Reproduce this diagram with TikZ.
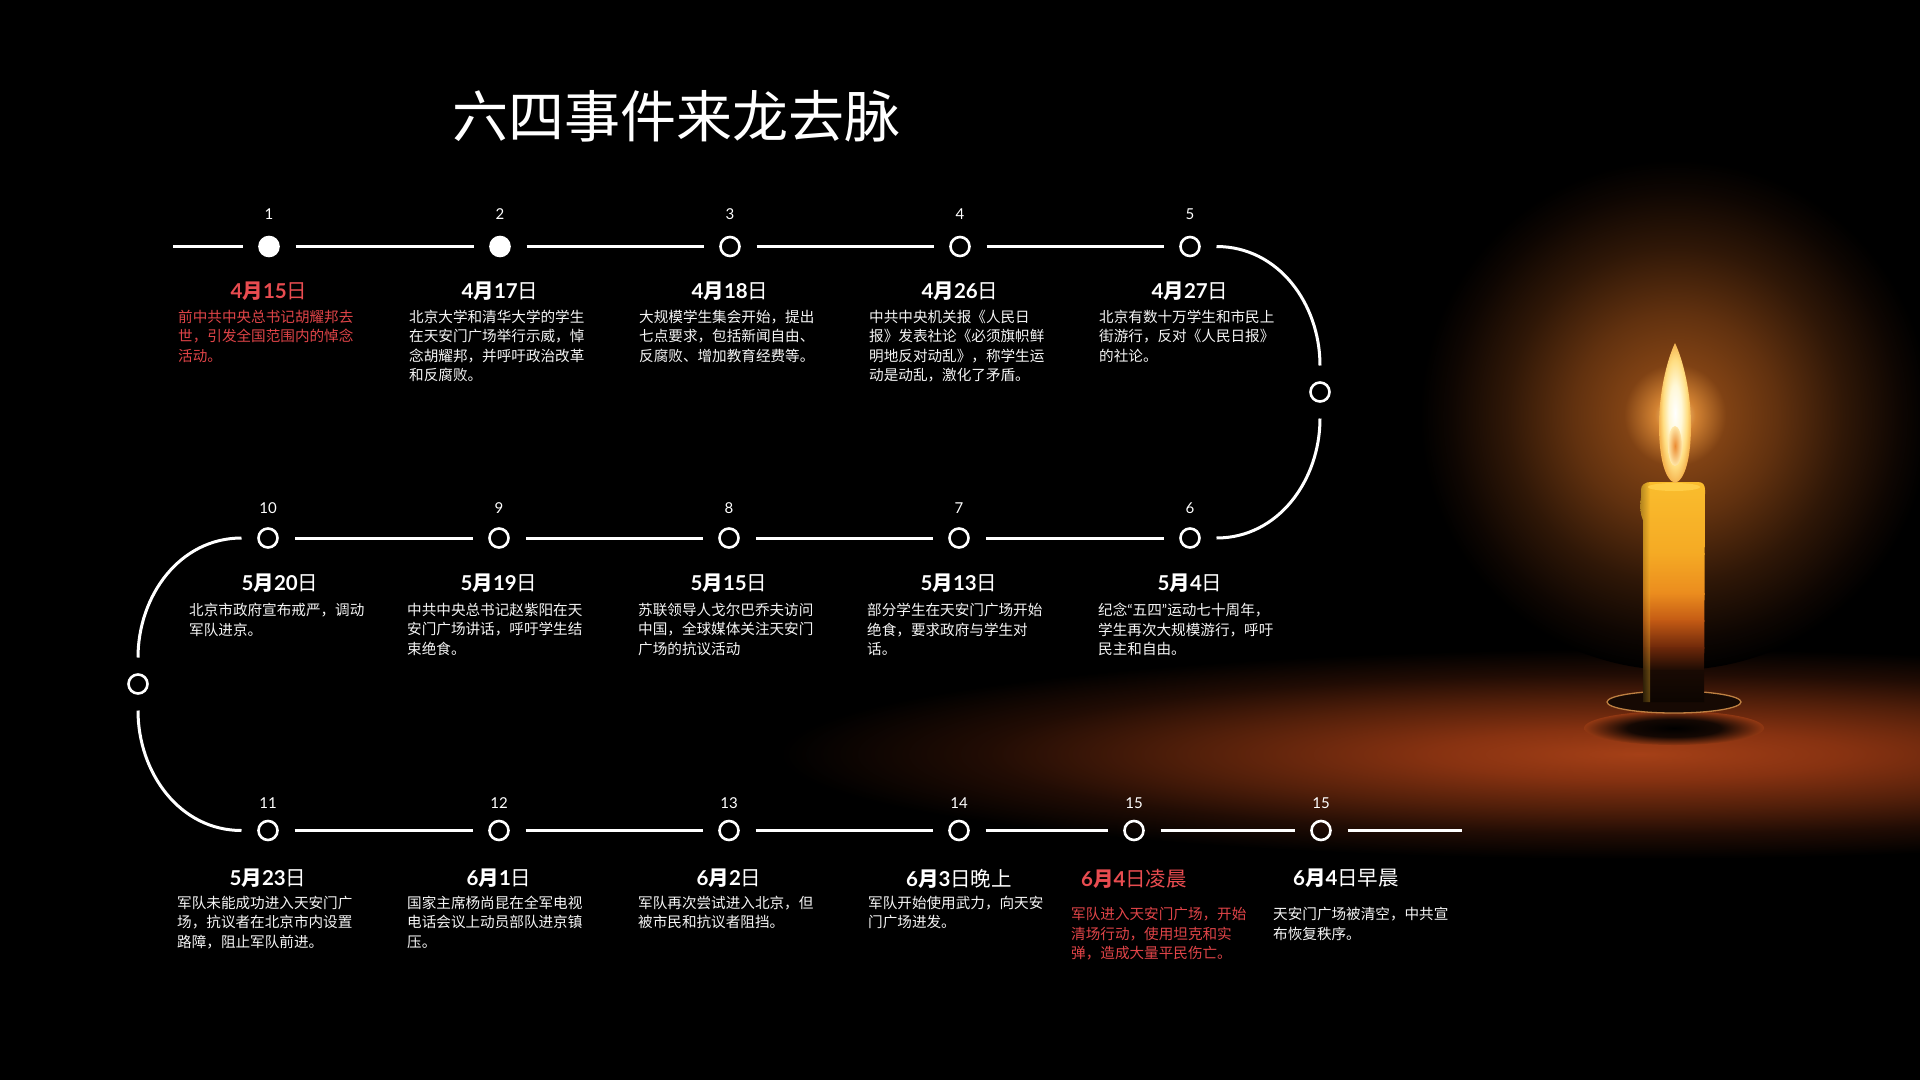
\documentclass[tikz,border=0pt]{standalone}
\usepackage{fontspec}
\setmainfont{Noto Sans CJK SC}
\newfontfamily\lato{Lato}

\definecolor{redA}{RGB}{232,76,80}
\definecolor{redB}{RGB}{224,68,72}
\definecolor{txtW}{RGB}{245,245,245}
% glow colours
\definecolor{gA}{RGB}{255,220,150}
\definecolor{gB}{RGB}{210,130,50}
\definecolor{gC}{RGB}{128,66,20}
\definecolor{gD}{RGB}{97,49,15}
\definecolor{gE}{RGB}{47,23,7}
\definecolor{gF}{RGB}{14,6,2}
% floor colours
\definecolor{fA}{RGB}{165,64,23}
\definecolor{fB}{RGB}{135,50,17}
\definecolor{fC}{RGB}{82,31,10}
\definecolor{fD}{RGB}{33,12,4}
\definecolor{shA}{RGB}{20,8,3}
\definecolor{shB}{RGB}{145,56,19}
% flame colours
\definecolor{flA}{RGB}{255,248,215}
\definecolor{flB}{RGB}{255,222,130}
\definecolor{flC}{RGB}{245,180,80}
\definecolor{coreA}{RGB}{235,140,50}
\definecolor{coreB}{RGB}{255,232,170}
% candle body colours
\definecolor{cw0}{RGB}{250,190,46}
\definecolor{cw1}{RGB}{245,170,36}
\definecolor{cw2}{RGB}{235,140,30}
\definecolor{cw3}{RGB}{195,90,20}
\definecolor{cw4}{RGB}{110,40,10}
\definecolor{cw5}{RGB}{25,10,3}
\definecolor{cw6}{RGB}{10,4,1}
\definecolor{waxtop}{RGB}{255,205,70}
\definecolor{dishring}{RGB}{190,128,66}
\definecolor{dishfill}{RGB}{22,9,3}

\pgfdeclareradialshading{candleglow}{\pgfpoint{0bp}{0bp}}{%
color(0bp)=(gA); color(2bp)=(gB); color(5bp)=(gC); color(10bp)=(gD);
color(16.5bp)=(gE); color(22bp)=(gF); color(25bp)=(black); color(50bp)=(black)}
\pgfdeclareradialshading{floorglow}{\pgfpoint{0bp}{0bp}}{%
color(0bp)=(fA); color(6bp)=(fB); color(13bp)=(fC); color(19bp)=(fD);
color(25bp)=(black); color(50bp)=(black)}
\pgfdeclareradialshading{dishshadow}{\pgfpoint{0bp}{0bp}}{%
color(0bp)=(black); color(13bp)=(shA); color(25bp)=(shB); color(50bp)=(shB)}
\pgfdeclareradialshading{flameshade}{\pgfpoint{0bp}{0bp}}{%
color(0bp)=(white); color(10bp)=(flA); color(19bp)=(flB); color(25bp)=(flC); color(50bp)=(flC)}

\newcommand\dat[3]{{\lato\bfseries #1}{\bfseries 月}{\lato\bfseries #2}日#3}

\begin{document}
\begin{tikzpicture}[x=1pt,y=-1pt,
  dotw/.style={circle, draw=white, fill=white, line width=2.6pt, minimum size=19pt, inner sep=0pt, outer sep=17pt},
  doto/.style={circle, draw=white, line width=2.6pt, minimum size=19pt, inner sep=0pt, outer sep=17pt},
  conn/.style={draw=white, line width=3pt},
  numlbl/.style={font=\lato\fontsize{15}{17}\selectfont, text=white, inner sep=0pt},
  datelbl/.style={font=\fontsize{20.5}{24}\selectfont, text=white, inner sep=0pt},
  desc/.style={font=\fontsize{14.6}{19.5}\selectfont, text=txtW, align=left, inner sep=0pt, anchor=north west},
  redt/.style={text=redA},
  redd/.style={text=redB},
  ttl/.style={font=\fontsize{56}{60}\selectfont, text=white, inner sep=0pt}
]
\useasboundingbox (0,0) rectangle (1920,1080);
\fill[black] (0,0) rectangle (1920,1080);

% ---------- candle scene ----------
\shade[shading=floorglow] (1640,754) ellipse [x radius=860, y radius=105];
\begin{scope}
  \clip (1300,0) rectangle (1920,672);
  \shade[shading=candleglow] (1675,415) circle [radius=255];
\end{scope}
\shade[shading=dishshadow] (1674,728) ellipse [x radius=90, y radius=17];
\draw[draw=dishring, line width=1.3pt, fill=dishfill] (1674,702) ellipse [x radius=67, y radius=11];
\begin{scope}
  \clip (1643,702) -- (1643,520) .. controls (1640,514) and (1640,506) .. (1641,498)
        -- (1641,490) .. controls (1641,485) and (1645,482) .. (1651,482)
        -- (1698,482) .. controls (1703,482) and (1705,485) .. (1705,490)
        -- (1704,702) -- cycle;
  \shade[top color=cw0, bottom color=cw1] (1630,478) rectangle (1720,554);
  \shade[top color=cw1, bottom color=cw2] (1630,553) rectangle (1720,594);
  \shade[top color=cw2, bottom color=cw3] (1630,593) rectangle (1720,621);
  \shade[top color=cw3, bottom color=cw4] (1630,620) rectangle (1720,648);
  \shade[top color=cw4, bottom color=cw5] (1630,647) rectangle (1720,671);
  \shade[top color=cw5, bottom color=cw6] (1630,670) rectangle (1720,706);
  \shade[left color=black, right color=cw0, opacity=0.35] (1638,478) rectangle (1650,706);
\end{scope}
\fill[waxtop] (1674,487) ellipse [x radius=26, y radius=4];
\shade[shading=flameshade] (1675,343) .. controls (1684,362) and (1691,395) .. (1691,425)
   .. controls (1691,458) and (1685,480) .. (1675,483)
   .. controls (1665,480) and (1659,458) .. (1659,425)
   .. controls (1659,395) and (1666,362) .. (1675,343) -- cycle;
\shade[inner color=coreA, outer color=coreB] (1675,446) ellipse [x radius=7, y radius=20];

% ---------- title ----------
\node[ttl] (title) at (676,116) {六四事件来龙去脉};

% ---------- dots ----------
\node[dotw] (n1) at (269,246.5) {};
\node[dotw] (n2) at (500,246.5) {};
\node[doto] (n3) at (730,246.5) {};
\node[doto] (n4) at (960,246.5) {};
\node[doto] (n5) at (1190,246.5) {};
\node[doto] (nr) at (1320,392) {};
\node[doto] (n6) at (1190,538) {};
\node[doto] (n7) at (959,538) {};
\node[doto] (n8) at (729,538) {};
\node[doto] (n9) at (499,538) {};
\node[doto] (n10) at (268,538) {};
\node[doto] (nl) at (138,684) {};
\node[doto] (n11) at (268,830.5) {};
\node[doto] (n12) at (499,830.5) {};
\node[doto] (n13) at (729,830.5) {};
\node[doto] (n14) at (959,830.5) {};
\node[doto] (n15a) at (1134,830.5) {};
\node[doto] (n15b) at (1321,830.5) {};
\coordinate (s1) at (173,246.5);
\coordinate (e3) at (1462,830.5);

% ---------- connectors ----------
\draw[conn] (s1) -- (n1);
\draw[conn] (n1) -- (n2);
\draw[conn] (n2) -- (n3);
\draw[conn] (n3) -- (n4);
\draw[conn] (n4) -- (n5);
\draw[conn] (n5) to[out=0,in=90] (nr);
\draw[conn] (nr) to[out=-90,in=0] (n6);
\draw[conn] (n6) -- (n7);
\draw[conn] (n7) -- (n8);
\draw[conn] (n8) -- (n9);
\draw[conn] (n9) -- (n10);
\draw[conn] (n10) to[out=180,in=90] (nl);
\draw[conn] (nl) to[out=-90,in=180] (n11);
\draw[conn] (n11) -- (n12);
\draw[conn] (n12) -- (n13);
\draw[conn] (n13) -- (n14);
\draw[conn] (n14) -- (n15a);
\draw[conn] (n15a) -- (n15b);
\draw[conn] (n15b) -- (e3);

% ---------- number labels ----------
\node[numlbl] (k1) at (269,214.5) {1};
\node[numlbl] (k2) at (500,214.5) {2};
\node[numlbl] (k3) at (730,214.5) {3};
\node[numlbl] (k4) at (960,214.5) {4};
\node[numlbl] (k5) at (1190,214.5) {5};
\node[numlbl] (k6) at (1190,508) {6};
\node[numlbl] (k7) at (959,508) {7};
\node[numlbl] (k8) at (729,508) {8};
\node[numlbl] (k9) at (499,508) {9};
\node[numlbl] (k10) at (268,508) {10};
\node[numlbl] (k11) at (268,803.5) {11};
\node[numlbl] (k12) at (499,803.5) {12};
\node[numlbl] (k13) at (729,803.5) {13};
\node[numlbl] (k14) at (959,803.5) {14};
\node[numlbl] (k15a) at (1134,803.5) {15};
\node[numlbl] (k15b) at (1321,803.5) {15};

% ---------- dates ----------
\node[datelbl,redt] (d1) at (269,291) {\dat{4}{15}{}};
\node[datelbl] (d2) at (500,291) {\dat{4}{17}{}};
\node[datelbl] (d3) at (730,291) {\dat{4}{18}{}};
\node[datelbl] (d4) at (960,291) {\dat{4}{26}{}};
\node[datelbl] (d5) at (1190,291) {\dat{4}{27}{}};
\node[datelbl] (d6) at (1190,583.5) {\dat{5}{4}{}};
\node[datelbl] (d7) at (959,583.5) {\dat{5}{13}{}};
\node[datelbl] (d8) at (729,583.5) {\dat{5}{15}{}};
\node[datelbl] (d9) at (499,583.5) {\dat{5}{19}{}};
\node[datelbl] (d10) at (280,583.5) {\dat{5}{20}{}};
\node[datelbl] (d11) at (268,878.5) {\dat{5}{23}{}};
\node[datelbl] (d12) at (499,878.5) {\dat{6}{1}{}};
\node[datelbl] (d13) at (729,878.5) {\dat{6}{2}{}};
\node[datelbl] (d14) at (959,878.5) {\dat{6}{3}{晚上}};
\node[datelbl,redt] (d15a) at (1134,878.5) {\dat{6}{4}{凌晨}};
\node[datelbl] (d15b) at (1346,878.5) {\dat{6}{4}{早晨}};

% ---------- descriptions ----------
\node[desc,redd] (t1) at (178,309.5) {前中共中央总书记胡耀邦去\\世，引发全国范围内的悼念\\活动。};
\node[desc] (t2) at (409,309.5) {北京大学和清华大学的学生\\在天安门广场举行示威，悼\\念胡耀邦，并呼吁政治改革\\和反腐败。};
\node[desc] (t3) at (639,309.5) {大规模学生集会开始，提出\\七点要求，包括新闻自由、\\反腐败、增加教育经费等。};
\node[desc] (t4) at (869,309.5) {中共中央机关报《人民日\\报》发表社论《必须旗帜鲜\\明地反对动乱》，称学生运\\动是动乱，激化了矛盾。};
\node[desc] (t5) at (1099,309.5) {北京有数十万学生和市民上\\街游行，反对《人民日报》\\的社论。};
\node[desc] (t6) at (1098,603) {纪念{\lato “}五四{\lato ”}运动七十周年，\\学生再次大规模游行，呼吁\\民主和自由。};
\node[desc] (t7) at (867,603) {部分学生在天安门广场开始\\绝食，要求政府与学生对\\话。};
\node[desc] (t8) at (638,603) {苏联领导人戈尔巴乔夫访问\\中国，全球媒体关注天安门\\广场的抗议活动};
\node[desc] (t9) at (407,603) {中共中央总书记赵紫阳在天\\安门广场讲话，呼吁学生结\\束绝食。};
\node[desc] (t10) at (189,603) {北京市政府宣布戒严，调动\\军队进京。};
\node[desc] (t11) at (177,895.5) {军队未能成功进入天安门广\\场，抗议者在北京市内设置\\路障，阻止军队前进。};
\node[desc] (t12) at (407,895.5) {国家主席杨尚昆在全军电视\\电话会议上动员部队进京镇\\压。};
\node[desc] (t13) at (638,895.5) {军队再次尝试进入北京，但\\被市民和抗议者阻挡。};
\node[desc] (t14) at (868,895.5) {军队开始使用武力，向天安\\门广场进发。};
\node[desc,redd] (t15a) at (1071,907) {军队进入天安门广场，开始\\清场行动，使用坦克和实\\弹，造成大量平民伤亡。};
\node[desc] (t15b) at (1273,907) {天安门广场被清空，中共宣\\布恢复秩序。};
\end{tikzpicture}
\end{document}
